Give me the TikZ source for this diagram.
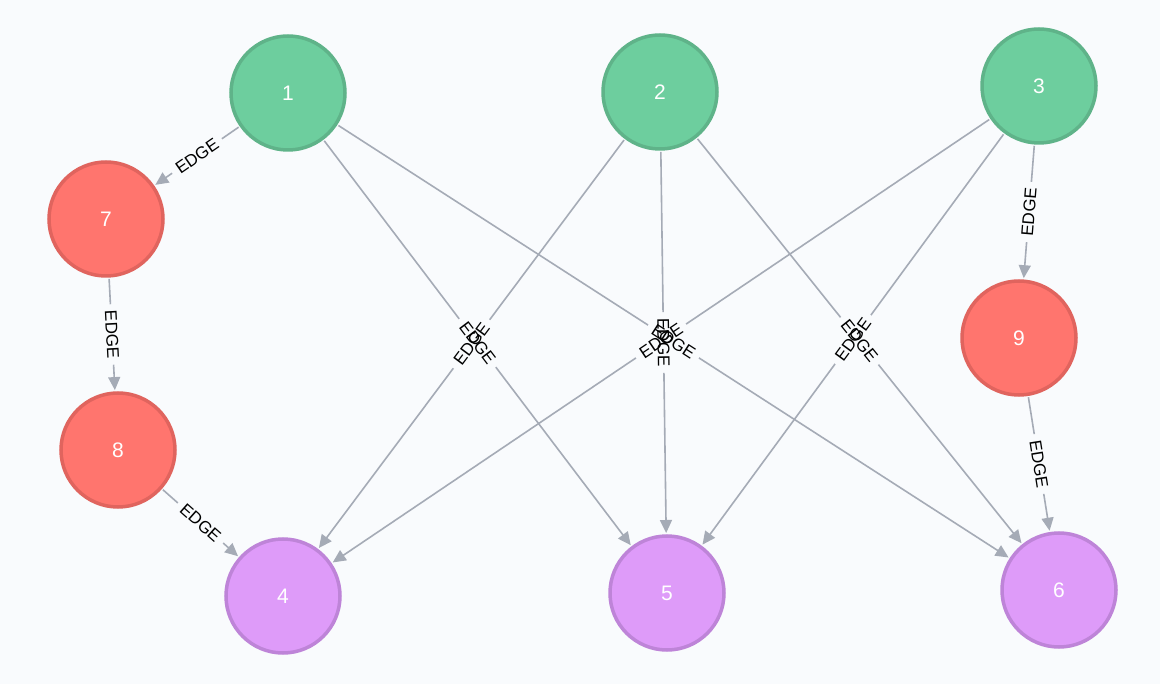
\documentclass[tikz,border=0pt]{standalone}
\usepackage{fontspec}
\setmainfont{Liberation Sans}
\usetikzlibrary{arrows.meta}
\definecolor{paper}{HTML}{F9FBFD}
\definecolor{wire}{HTML}{A5ABB6}
\definecolor{greenfill}{HTML}{6DCE9E}
\definecolor{greenline}{HTML}{5FB389}
\definecolor{redfill}{HTML}{FF756E}
\definecolor{redline}{HTML}{E0645E}
\definecolor{purplefill}{HTML}{DE9BF9}
\definecolor{purpleline}{HTML}{BE84D8}
\newcommand{\NodeSize}{114pt}

\begin{document}
\begin{tikzpicture}[
    x=1pt, y=-1pt,
    graphnode/.style={circle, minimum size=\NodeSize, inner sep=0pt, outer sep=3pt, line width=3.5pt, text=white, font=\fontsize{21}{21}\selectfont},
    greennode/.style={graphnode, fill=greenfill, draw=greenline},
    rednode/.style={graphnode, fill=redfill, draw=redline},
    purplenode/.style={graphnode, fill=purplefill, draw=purpleline},
    wireline/.style={draw=wire, line width=1.6pt},
    arrowline/.style={wireline, -{Triangle[length=13pt, width=12pt]}},
    caption/.style={sloped, inner xsep=6pt, inner ysep=1pt, text=black, font=\fontsize{17}{17}\selectfont},
  ]

% --- Canvas ---------------------------------------------------------------
\fill[paper] (0,0) rectangle (1160,684);
\useasboundingbox (0,0) rectangle (1160,684);

% --- Nodes ------------------------------------------------------------------
\foreach \n/\x/\y/\kind in {1/288/93/greennode, 2/660/92/greennode, 3/1039/86/greennode,
                            7/106/219/rednode, 8/118/450/rednode, 9/1019/338/rednode,
                            4/283/596/purplenode, 5/667/593/purplenode, 6/1059/590/purplenode} {
  \node[\kind] (n\n) at (\x,\y) {\n};
}

% --- Relationships, each broken round its caption -----------------------------
\foreach \a/\b in {1/7, 7/8, 8/4, 3/9, 9/6, 1/5, 1/6, 2/4, 2/5, 2/6, 3/4, 3/5} {
  \path (n\a) -- node[caption] (c\a\b) {EDGE} (n\b);
  \draw[wireline] (n\a) -- (c\a\b);
  \draw[arrowline] (c\a\b) -- (n\b);
}

\end{tikzpicture}
\end{document}
